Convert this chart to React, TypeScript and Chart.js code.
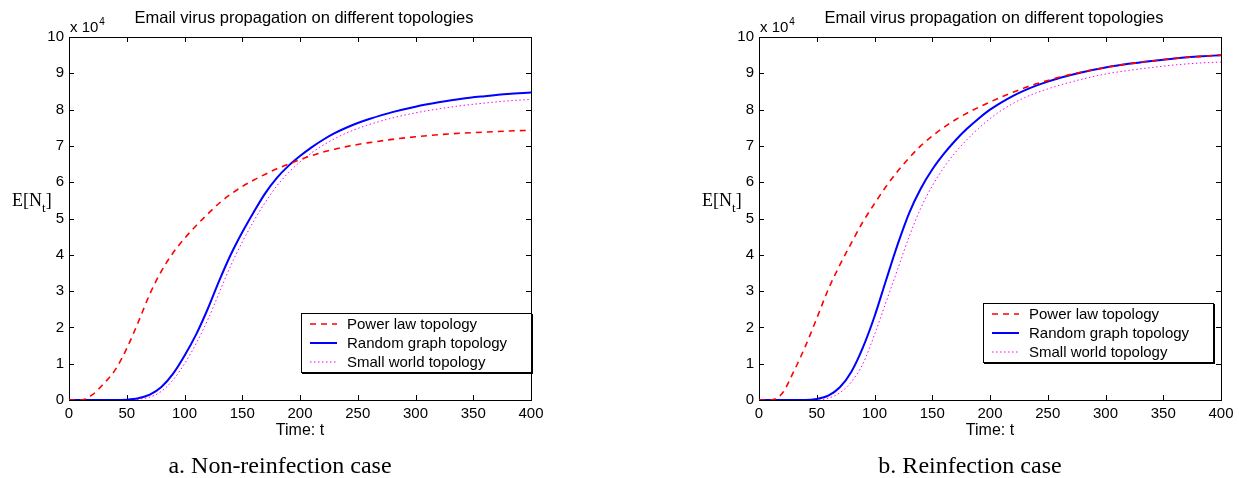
import React, { useEffect, useRef } from "react";
import { Chart, registerables } from "chart.js";

Chart.register(...registerables);

// ---------- data (values in units of 10^4) ----------
const TIME = [0, 10, 20, 30, 40, 50, 60, 70, 80, 90, 100, 110, 120, 130, 140, 150, 160, 170, 180, 190, 200, 210, 220, 230, 240, 250, 260, 280, 300, 320, 340, 360, 380, 400];

// a. Non-reinfection case
const A_POWER = [0, 0, 0.14, 0.45, 0.83, 1.42, 2.15, 2.92, 3.55, 4.05, 4.45, 4.8, 5.12, 5.42, 5.67, 5.88, 6.06, 6.22, 6.37, 6.5, 6.62, 6.73, 6.83, 6.91, 6.98, 7.04, 7.09, 7.18, 7.25, 7.31, 7.35, 7.38, 7.41, 7.43];
const A_RANDOM = [0, 0, 0, 0, 0, 0.01, 0.05, 0.15, 0.36, 0.72, 1.22, 1.8, 2.5, 3.28, 4.0, 4.62, 5.18, 5.7, 6.12, 6.45, 6.72, 6.96, 7.17, 7.35, 7.5, 7.63, 7.74, 7.93, 8.08, 8.2, 8.3, 8.37, 8.43, 8.47];
const A_SMALL = [0, 0, 0, 0, 0, 0, 0.02, 0.08, 0.24, 0.55, 1.0, 1.55, 2.2, 2.95, 3.7, 4.35, 4.93, 5.45, 5.9, 6.26, 6.56, 6.81, 7.02, 7.2, 7.35, 7.48, 7.59, 7.77, 7.91, 8.02, 8.11, 8.18, 8.24, 8.28];

// b. Reinfection case
const B_POWER = [0, 0, 0.18, 0.78, 1.47, 2.25, 3.05, 3.72, 4.33, 4.91, 5.41, 5.88, 6.3, 6.67, 7.0, 7.27, 7.51, 7.72, 7.9, 8.06, 8.21, 8.35, 8.48, 8.6, 8.71, 8.8, 8.89, 9.04, 9.16, 9.26, 9.34, 9.41, 9.46, 9.5];
const B_RANDOM = [0, 0, 0, 0, 0, 0.03, 0.12, 0.35, 0.78, 1.45, 2.3, 3.3, 4.28, 5.15, 5.82, 6.35, 6.78, 7.15, 7.47, 7.75, 8.0, 8.2, 8.38, 8.53, 8.66, 8.77, 8.87, 9.03, 9.16, 9.26, 9.34, 9.41, 9.46, 9.5];
const B_SMALL = [0, 0, 0, 0, 0, 0, 0.05, 0.2, 0.5, 1.0, 1.8, 2.7, 3.6, 4.5, 5.28, 5.9, 6.4, 6.82, 7.17, 7.48, 7.75, 7.98, 8.17, 8.33, 8.46, 8.57, 8.67, 8.84, 8.98, 9.08, 9.16, 9.23, 9.28, 9.31];

const SERIES_LABELS = ["Power law topology", "Random graph topology", "Small world topology"];
const TITLE = "Email virus propagation on different topologies";
const X_LABEL = "Time: t";
const CAPTION_A = "a. Non-reinfection case";
const CAPTION_B = "b. Reinfection case";
const X_MIN = 0, X_MAX = 400, X_STEP = 50;
const Y_MIN = 0, Y_MAX = 10, Y_STEP = 1;

const SANS = "'Liberation Sans', Arial, Helvetica, sans-serif";
const SERIF = "'Liberation Serif', 'Times New Roman', Times, serif";

const framePlugin = {
  id: "matlabFrame",
  beforeDatasetsDraw(chart: any) {
    const { ctx, chartArea: a, scales } = chart;
    const xs = scales.x, ys = scales.y;
    const tl = 5;
    ctx.save();
    ctx.strokeStyle = "#000";
    ctx.lineWidth = 1;
    ctx.beginPath();
    for (let v = X_MIN; v <= X_MAX; v += X_STEP) {
      const px = Math.round(xs.getPixelForValue(v)) + 0.5;
      ctx.moveTo(px, a.bottom); ctx.lineTo(px, a.bottom - tl);
      ctx.moveTo(px, a.top); ctx.lineTo(px, a.top + tl);
    }
    for (let v = Y_MIN; v <= Y_MAX; v += Y_STEP) {
      const py = Math.round(ys.getPixelForValue(v)) + 0.5;
      ctx.moveTo(a.left, py); ctx.lineTo(a.left + tl, py);
      ctx.moveTo(a.right, py); ctx.lineTo(a.right - tl, py);
    }
    ctx.stroke();
    ctx.strokeRect(Math.round(a.left) + 0.5, Math.round(a.top) + 0.5, Math.round(a.right - a.left), Math.round(a.bottom - a.top));
    ctx.restore();
  },
};

const legendPlugin = {
  id: "boxLegend",
  afterDraw(chart: any, _args: any, opts: any) {
    if (!opts || opts.x === undefined) return;
    const { ctx } = chart;
    ctx.save();
    ctx.fillStyle = "#fff";
    ctx.fillRect(opts.x, opts.y, opts.w, opts.h);
    ctx.strokeStyle = "#000";
    ctx.lineWidth = 1;
    ctx.strokeRect(opts.x + 0.5, opts.y + 0.5, opts.w, opts.h);
    ctx.lineWidth = 2;
    ctx.beginPath();
    ctx.moveTo(opts.x + 1, opts.y + opts.h + 1);
    ctx.lineTo(opts.x + opts.w + 1, opts.y + opts.h + 1);
    ctx.lineTo(opts.x + opts.w + 1, opts.y + 1);
    ctx.stroke();
    chart.data.datasets.forEach((ds: any, i: number) => {
      const cy = opts.y + opts.firstRow + i * opts.rowH;
      ctx.strokeStyle = ds.borderColor;
      ctx.lineWidth = ds.borderWidth;
      ctx.setLineDash(ds.borderDash || []);
      ctx.beginPath();
      ctx.moveTo(opts.x + opts.sample0, cy);
      ctx.lineTo(opts.x + opts.sample1, cy);
      ctx.stroke();
      ctx.setLineDash([]);
      ctx.fillStyle = "#000";
      ctx.font = opts.font;
      ctx.textBaseline = "middle";
      ctx.textAlign = "left";
      ctx.fillText(ds.label, opts.x + opts.textX, cy + 1);
    });
    ctx.restore();
  },
};

function makeSeries(vals: number[]) {
  return TIME.map((t, i) => ({ x: t, y: vals[i] }));
}

type PanelProps = {
  left: number;
  width: number;
  power: number[];
  random: number[];
  small: number[];
  padLeft: number;
  padRight: number;
  legend: any;
};

function Panel(p: PanelProps) {
  const ref = useRef<HTMLCanvasElement | null>(null);
  useEffect(() => {
    if (!ref.current) return;
    const chart = new Chart(ref.current, {
      type: "line",
      data: {
        datasets: [
          { label: SERIES_LABELS[0], data: makeSeries(p.power), borderColor: "#ff0000", borderWidth: 1.6, borderDash: [6, 5], pointRadius: 0, cubicInterpolationMode: "monotone", fill: false },
          { label: SERIES_LABELS[1], data: makeSeries(p.random), borderColor: "#0000ff", borderWidth: 2, pointRadius: 0, cubicInterpolationMode: "monotone", fill: false },
          { label: SERIES_LABELS[2], data: makeSeries(p.small), borderColor: "#ff00ff", borderWidth: 1, borderDash: [1.5, 2.5], pointRadius: 0, cubicInterpolationMode: "monotone", fill: false },
        ] as any,
      },
      options: {
        animation: false,
        responsive: false,
        devicePixelRatio: 1,
        events: [],
        layout: { padding: { left: p.padLeft, right: p.padRight, top: 37, bottom: 48 } },
        plugins: {
          legend: { display: false },
          tooltip: { enabled: false },
          title: { display: false },
          boxLegend: p.legend,
        } as any,
        scales: {
          x: {
            type: "linear",
            min: X_MIN,
            max: X_MAX,
            grid: { display: false, drawTicks: false },
            border: { display: false },
            ticks: { stepSize: X_STEP, padding: 5, color: "#000", font: { family: SANS, size: 15 }, maxRotation: 0, autoSkip: false },
            afterFit: (s: any) => { s.height = 30; },
          },
          y: {
            type: "linear",
            min: Y_MIN,
            max: Y_MAX,
            grid: { display: false, drawTicks: false },
            border: { display: false },
            ticks: { stepSize: Y_STEP, padding: 5, color: "#000", font: { family: SANS, size: 15 }, autoSkip: false },
            afterFit: (s: any) => { s.width = 40; },
          },
        } as any,
      },
      plugins: [framePlugin, legendPlugin],
    });
    return () => chart.destroy();
  }, []);
  return (
    <canvas
      ref={ref}
      width={p.width}
      height={478}
      style={{ position: "absolute", left: p.left, top: 0, width: p.width, height: 478 }}
    />
  );
}

const abs = (extra: React.CSSProperties): React.CSSProperties => ({
  position: "absolute",
  whiteSpace: "nowrap",
  color: "#000",
  ...extra,
});

function Labels({ plotLeft, plotCenter, caption, captionCenter }: { plotLeft: number; plotCenter: number; caption: string; captionCenter: number }) {
  return (
    <>
      <div style={abs({ left: plotCenter + 4, top: 9, transform: "translateX(-50%)", font: `16.5px ${SANS}`, lineHeight: "16px" })}>{TITLE}</div>
      <div style={abs({ left: plotLeft + 1, top: 19, font: `15px ${SANS}`, lineHeight: "15px" })}>
        x 10<span style={{ fontSize: 10, position: "relative", top: -7, marginLeft: 1 }}>4</span>
      </div>
      <div style={abs({ left: plotLeft - 57, top: 191, font: `18px ${SERIF}`, lineHeight: "18px" })}>
        E[N<span style={{ fontSize: 13, position: "relative", top: 6 }}>t</span>]
      </div>
      <div style={abs({ left: plotCenter, top: 422, transform: "translateX(-50%)", font: `16px ${SANS}`, lineHeight: "16px" })}>{X_LABEL}</div>
      <div style={abs({ left: captionCenter, top: 453, transform: "translateX(-50%)", font: `24px ${SERIF}`, lineHeight: "24px" })}>{caption}</div>
    </>
  );
}

export default function App() {
  const legendCommon = { w: 230, h: 59, firstRow: 11, rowH: 19, sample0: 9, sample1: 36, textX: 46, font: `15px ${SANS}` };
  return (
    <div style={{ position: "absolute", left: 0, top: 0, width: 1239, height: 478, background: "#fff", overflow: "hidden" }}>
      <Panel
        left={0}
        width={620}
        power={A_POWER}
        random={A_RANDOM}
        small={A_SMALL}
        padLeft={29}
        padRight={89}
        legend={{ ...legendCommon, x: 301, y: 313 }}
      />
      <Panel
        left={620}
        width={619}
        power={B_POWER}
        random={B_RANDOM}
        small={B_SMALL}
        padLeft={99}
        padRight={18}
        legend={{ ...legendCommon, x: 363, y: 303 }}
      />
      <Labels plotLeft={69} plotCenter={300} caption={CAPTION_A} captionCenter={280} />
      <Labels plotLeft={759} plotCenter={990} caption={CAPTION_B} captionCenter={970} />
    </div>
  );
}
